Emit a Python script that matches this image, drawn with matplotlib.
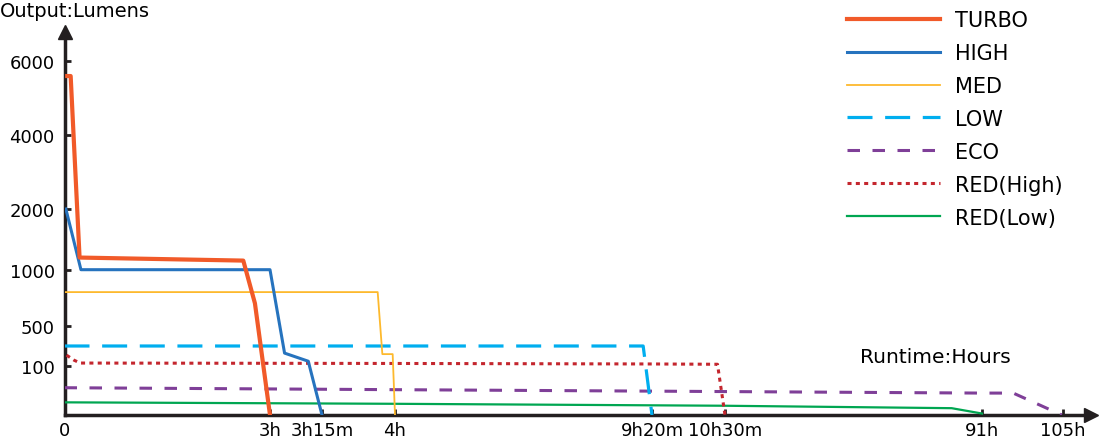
import matplotlib
matplotlib.use('Agg')
import matplotlib.pyplot as plt
import numpy as np

plt.rcParams['font.family'] = ['DejaVu Sans']
plt.rcParams['lines.scale_dashes'] = False

# runtime tick marks (hours) and their labels
xtick_hours = [0, 3, 3.25, 4, 9 + 20 / 60, 10.5, 91, 105]
xtick_labels = ['0', '3h', '3h15m', '4h', '9h20m', '10h30m', '91h', '105h']
ytick_lumens = [100, 500, 1000, 2000, 4000, 6000]

# series: hours / lumens
turbo_t = [0.04, 0.09, 0.22, 2.61, 2.78, 3.0]
turbo_l = [5600, 5600, 1200, 1150, 700, 0]
high_t = [0.02, 0.24, 3.0, 3.07, 3.184, 3.25]
high_l = [2000, 1000, 1000, 230, 150, 0]
med_t = [0.0, 3.822, 3.87, 3.976, 4.0]
med_l = [800, 800, 220, 220, 0]
low_t = [0.0, 9.15, 9.333]
low_l = [300, 300, 0]
eco_t = [0.0, 4.0, 9.333, 91, 96.4, 104.8]
eco_l = [56, 52, 49, 45, 45, 0]
redh_t = [0.03, 0.14, 0.23, 4.0, 9.333, 10.38, 10.5]
redh_l = [210, 160, 132, 128, 123, 120, 0]
redl_t = [0.0, 4.0, 10.5, 81.5, 91]
redl_l = [26, 23, 19, 14, 3]

# piecewise axis scales (knots -> pixel positions)
x_knots = [0, 3, 3.25, 4, 9 + 20 / 60, 10.5, 91, 105, 125]
x_pix = [64.5, 270, 322, 395, 652, 725, 982, 1063, 1063 + 20 * 81 / 14]
y_knots = [0, 100, 500, 1000, 2000, 4000, 6000, 8000]
y_pix = [0, 48.7, 89.3, 145.3, 206, 280, 353.7, 427.4]


def xf(v):
    return np.interp(v, x_knots, x_pix)


def xi(v):
    return np.interp(v, x_pix, x_knots)


def yf(v):
    return np.interp(v, y_knots, y_pix)


def yi(v):
    return np.interp(v, y_pix, y_knots)


W, H = 1100, 439
x0, x1 = 64.5, 1091
ytop = 33
fig = plt.figure(figsize=(W / 100, H / 100), dpi=100)
ax = fig.add_axes([x0 / W, (H - 416) / H, (x1 - x0) / W, (416 - ytop) / H])
ax.set_xscale('function', functions=(xf, xi))
ax.set_yscale('function', functions=(yf, yi))

ax.plot(turbo_t, turbo_l, color='#F15A29', lw=3.0, label='TURBO', zorder=9)
ax.plot(high_t, high_l, color='#2673BE', lw=2.2, label='HIGH', zorder=8)
ax.plot(med_t, med_l, color='#FDB92D', lw=1.3, label='MED', zorder=7)
ax.plot(low_t, low_l, color='#00AEEF', lw=2.3, dashes=(18, 9.1), label='LOW', zorder=6)
ax.plot(eco_t, eco_l, color='#7F3F98', lw=2.2, dashes=(9, 9), label='ECO', zorder=5)
ax.plot(redh_t, redh_l, color='#C4262E', lw=2.2, dashes=(2.9, 3.1), label='RED(High)', zorder=4)
ax.plot(redl_t, redl_l, color='#00A651', lw=1.6, label='RED(Low)', zorder=3)

ax.set_xlim(0, xi(x1))
ax.set_ylim(0, yi(416 - ytop))

for s in ['top', 'right']:
    ax.spines[s].set_visible(False)
for s in ['left', 'bottom']:
    ax.spines[s].set_linewidth(2.5)
    ax.spines[s].set_color('#231F20')

ax.set_xticks(xtick_hours)
ax.set_xticklabels(xtick_labels)
ax.set_yticks(ytick_lumens)
ax.set_yticklabels([str(v) for v in ytick_lumens])
ax.tick_params(axis='both', direction='in', length=4, width=2, color='#231F20',
               labelsize=13, labelcolor='black')
ax.tick_params(axis='x', pad=4.5)
ax.tick_params(axis='y', pad=7)

# axis arrows
ax.plot([0], [1], marker='^', ms=10, color='#231F20', transform=ax.transAxes, clip_on=False)
ax.plot([1], [0], marker='>', ms=10, color='#231F20', transform=ax.transAxes, clip_on=False)

fig.text(0, 1 - 17 / H, 'Output:Lumens', fontsize=14, va='baseline', ha='left')
fig.text(860 / W, 1 - 363 / H, 'Runtime:Hours', fontsize=14.5, va='baseline', ha='left')

fig.legend(loc='upper left', bbox_to_anchor=(847 / W, 1 - 11 / H), frameon=False,
           fontsize=15, borderpad=0, borderaxespad=0, handlelength=4.47,
           handletextpad=0.72, labelspacing=0.62)

plt.savefig('out.png', dpi=100)
